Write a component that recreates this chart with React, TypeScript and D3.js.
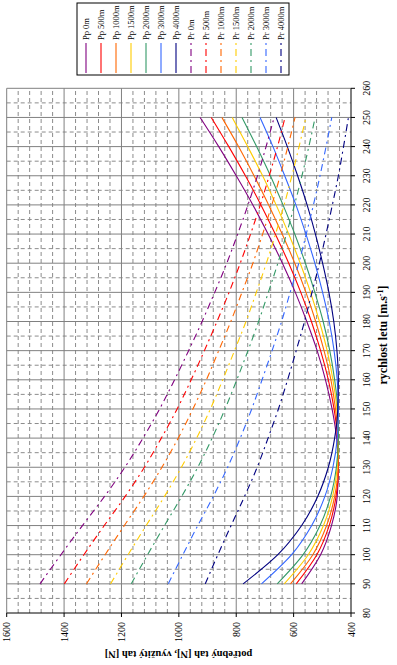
import React from 'react';
import * as d3 from 'd3';

// speed [m/s] on the category axis
const speeds = [90, 100, 110, 120, 130, 140, 150, 160, 170, 180, 190, 200, 210, 220, 230, 240, 250];
const altitudes = ['0m', '500m', '1000m', '1500m', '2000m', '3000m', '4000m'];
const colors = ['#800080', '#FF0000', '#FF6600', '#FFCC00', '#339966', '#3366FF', '#000080'];

// required thrust (Pp)
const pp0 = [572, 506, 468, 448, 444, 450, 466, 489, 518, 554, 594, 639, 689, 742, 800, 861, 926];
const pp500 = [591, 519, 476, 452, 444, 447, 459, 479, 506, 538, 575, 617, 664, 714, 768, 826, 887];
const pp1000 = [611, 533, 485, 457, 445, 445, 454, 470, 494, 523, 557, 596, 640, 687, 738, 792, 850];
const pp1500 = [633, 549, 496, 464, 448, 444, 449, 463, 483, 510, 541, 577, 617, 661, 708, 760, 814];
const pp2000 = [657, 567, 508, 471, 451, 444, 446, 457, 474, 497, 526, 559, 596, 637, 681, 729, 780];
const pp3000 = [712, 607, 537, 491, 463, 448, 444, 448, 459, 476, 499, 526, 557, 592, 631, 672, 717];
const pp4000 = [776, 655, 572, 516, 479, 457, 446, 444, 449, 460, 477, 499, 524, 553, 586, 622, 661];

// available thrust (Pr)
const pr0 = [1484, 1411, 1336, 1259, 1188, 1125, 1067, 1015, 966, 919, 875, 833, 795, 759, 726, 696, 668];
const pr500 = [1399, 1331, 1260, 1187, 1120, 1061, 1006, 957, 911, 867, 825, 786, 750, 716, 685, 656, 630];
const pr1000 = [1322, 1257, 1190, 1122, 1059, 1002, 951, 904, 861, 819, 780, 742, 708, 676, 647, 620, 595];
const pr1500 = [1238, 1177, 1114, 1050, 991, 938, 890, 847, 806, 766, 730, 695, 663, 633, 606, 581, 557];
const pr2000 = [1166, 1109, 1050, 990, 934, 884, 839, 798, 759, 722, 688, 655, 625, 597, 571, 547, 525];
const pr3000 = [1037, 986, 934, 880, 830, 786, 746, 710, 675, 642, 612, 582, 556, 531, 508, 487, 467];
const pr4000 = [908, 864, 818, 771, 727, 689, 653, 621, 591, 562, 536, 510, 487, 465, 444, 426, 409];

const xTicks = [80, 90, 100, 110, 120, 130, 140, 150, 160, 170, 180, 190, 200, 210, 220, 230, 240, 250, 260];
const yTicks = [400, 600, 800, 1000, 1200, 1400, 1600];

const W = 397;
const H = 665;
const FONT = '"Liberation Serif", "Times New Roman", serif';
const DASH = '7,4,2,4';

export default function App() {
  // the chart is drawn in its own frame and turned a quarter turn left
  const x = d3.scaleLinear().domain([80, 260]).range([52, 576.7]);
  const y = d3.scaleLinear().domain([400, 1600]).range([351, 6.7]);

  const line = d3.line<number>()
    .x((_, i) => x(speeds[i]))
    .y(d => y(d))
    .curve(d3.curveMonotoneX);

  const pp = [pp0, pp500, pp1000, pp1500, pp2000, pp3000, pp4000];
  const pr = [pr0, pr500, pr1000, pr1500, pr2000, pr3000, pr4000];
  const series = [
    ...pp.map((d, i) => ({ name: 'Pp ' + altitudes[i], data: d, color: colors[i], dash: undefined as string | undefined })),
    ...pr.map((d, i) => ({ name: 'Pr ' + altitudes[i], data: d, color: colors[i], dash: DASH })),
  ];

  const minorX = d3.range(85, 260, 10);
  const minorY = d3.range(440, 1600, 40).filter(v => v % 200 !== 0);
  const [y0, y1] = y.range();
  const [x0, x1] = x.range();

  return (
    <div style={{ position: 'absolute', left: 0, top: 0 }}>
      <svg width={W} height={H} style={{ display: 'block', background: '#fff' }} fontFamily={FONT}>
        <g transform={`translate(0,${H}) rotate(-90)`}>
          {/* minor grid */}
          {minorX.map(s => (
            <line key={'mx' + s} x1={x(s)} x2={x(s)} y1={y1} y2={y0} stroke="#8c8c8c" strokeDasharray="4,3" />
          ))}
          {minorY.map(v => (
            <line key={'my' + v} x1={x0} x2={x1} y1={y(v)} y2={y(v)} stroke="#8c8c8c" strokeDasharray="4,3" />
          ))}
          {/* major grid */}
          {xTicks.slice(1).map(s => (
            <line key={'gx' + s} x1={x(s)} x2={x(s)} y1={y1} y2={y0} stroke="#808080" />
          ))}
          {yTicks.slice(1).map(v => (
            <line key={'gy' + v} x1={x0} x2={x1} y1={y(v)} y2={y(v)} stroke="#808080" />
          ))}

          {series.map(s => (
            <path key={s.name} d={line(s.data) || ''} fill="none" stroke={s.color} strokeWidth={1.1} strokeDasharray={s.dash} />
          ))}

          {/* axes */}
          <line x1={x0} x2={x1} y1={y0} y2={y0} stroke="#000" />
          <line x1={x0} x2={x0} y1={y1} y2={y0} stroke="#000" />
          {xTicks.map(s => (
            <g key={'tx' + s}>
              <line x1={x(s)} x2={x(s)} y1={y0} y2={y0 + 4} stroke="#000" />
              <text x={x(s)} y={y0 + 18.5} textAnchor="middle" fontSize={10}>{s}</text>
            </g>
          ))}
          {yTicks.map(v => (
            <g key={'ty' + v}>
              <line x1={x0 - 4} x2={x0} y1={y(v)} y2={y(v)} stroke="#000" />
              <text x={x0 - 9} y={y(v)} dy="0.35em" textAnchor="end" fontSize={10}>{v}</text>
            </g>
          ))}

          <text x={330} y={387} textAnchor="middle" fontSize={12} fontWeight="bold">
            rychlost letu [m.s<tspan dy={-4} fontSize={8}>-1</tspan><tspan dy={4}>]</tspan>
          </text>
          <text transform={`translate(14,178.5) rotate(-90)`} textAnchor="middle" fontSize={10.5} fontWeight="bold">
            potřebný tah [N], využitý tah [N]
          </text>

          {/* legend */}
          <rect x={590} y={77} width={72} height={212} fill="#fff" stroke="#000" />
          {series.map((s, i) => {
            const cy = 86 + 15 * i;
            return (
              <g key={'lg' + s.name}>
                <line x1={592} x2={622} y1={cy} y2={cy} stroke={s.color} strokeWidth={1.1} strokeDasharray={s.dash} />
                <text x={625} y={cy} dy="0.35em" fontSize={8.5}>{s.name}</text>
              </g>
            );
          })}
        </g>
      </svg>
    </div>
  );
}
